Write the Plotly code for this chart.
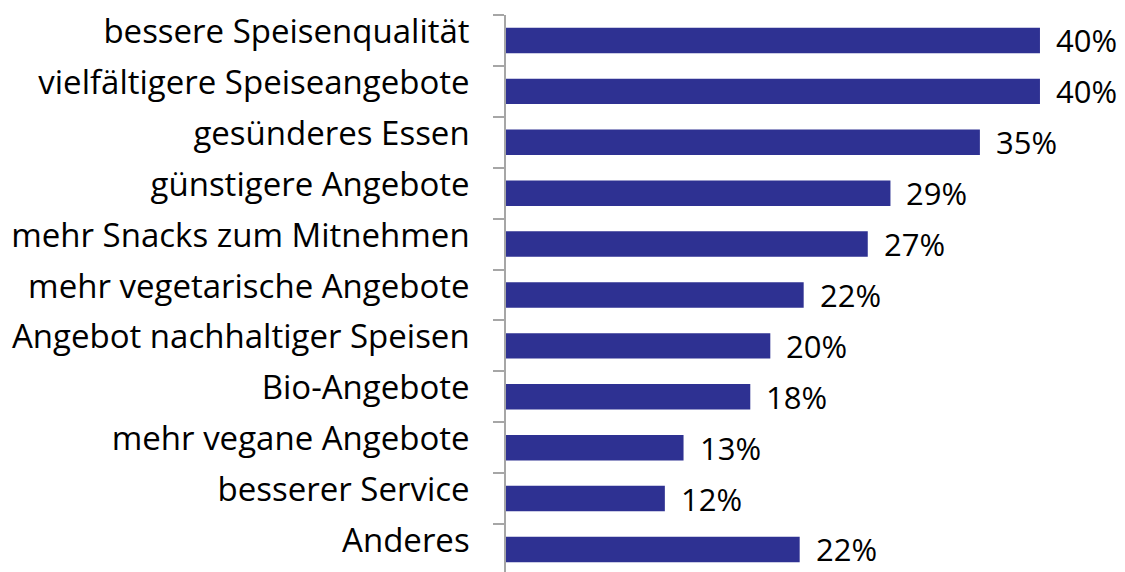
import plotly.graph_objects as go

categories = [
    "bessere Speisenqualität",
    "vielfältigere Speiseangebote",
    "gesünderes Essen",
    "günstigere Angebote",
    "mehr Snacks zum Mitnehmen",
    "mehr vegetarische Angebote",
    "Angebot nachhaltiger Speisen",
    "Bio-Angebote",
    "mehr vegane Angebote",
    "besserer Service",
    "Anderes",
]
values = [40.0, 40.0, 35.5, 28.8, 27.1, 22.3, 19.8, 18.3, 13.3, 11.9, 22.0]
value_labels = ["40%", "40%", "35%", "29%", "27%", "22%", "20%", "18%", "13%", "12%", "22%"]

FONT = "Open Sans"
BAR = "#2E3192"

fig = go.Figure()
fig.add_trace(go.Bar(
    x=values, y=categories, orientation="h",
    marker=dict(color=BAR, line=dict(width=0)),
    width=0.5,
    hoverinfo="skip",
))

for c, v, t in zip(categories, values, value_labels):
    fig.add_annotation(x=v, y=c, text=t, showarrow=False, xanchor="left",
                       xshift=14, yshift=0,
                       font=dict(family=FONT, size=31, color="#000000"))

fig.update_layout(
    width=1125, height=572,
    margin=dict(l=498, r=0, t=0, b=0),
    paper_bgcolor="white", plot_bgcolor="white",
    showlegend=False,
    bargap=0.5,
    xaxis=dict(visible=False, range=[0, 46.97]),
    yaxis=dict(
        type="category",
        categoryorder="array", categoryarray=categories,
        range=[10.6, -0.5],
        showline=True, linecolor="#A6A6A6", linewidth=1.5,
        ticks="outside", ticklen=11, tickcolor="#A6A6A6", tickwidth=1.5,
        tickson="boundaries",
        showgrid=False, zeroline=False,
        ticklabelstandoff=28,
        ticklabelshift=9,
        tickfont=dict(family=FONT, size=33, color="#000000"),
    ),
)

fig.write_html("out.html")
